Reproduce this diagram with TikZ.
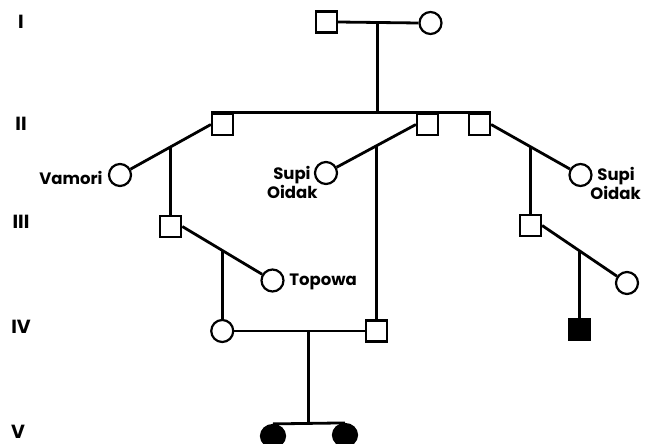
\documentclass[tikz,border=0pt]{standalone}
\usepackage{fontspec}
\setmainfont{Poppins}
\usetikzlibrary{shapes.geometric}
\begin{document}
\begin{tikzpicture}[x=1pt,y=-1pt,
  line width=2.8pt,
  male/.style={draw, rectangle, fill=white, minimum width=21pt, minimum height=21pt, inner sep=0pt, line width=2.2pt},
  female/.style={draw, ellipse, fill=white, minimum width=22pt, minimum height=22pt, inner sep=0pt, line width=2.2pt},
  malefill/.style={male, fill=black},
  femalefill/.style={female, fill=black, minimum width=24pt},
  gen/.style={font=\bfseries\fontsize{19}{19}\selectfont, inner sep=0pt},
  lbl/.style={font=\bfseries\fontsize{16.5}{18}\selectfont, inner sep=0pt},
]
\useasboundingbox (0,0) rectangle (649,444);
\clip (0,0) rectangle (649,444);

% generation numerals
\node[gen] (gI)   at (21,22)  {I};
\node[gen] (gII)  at (21,124) {II};
\node[gen] (gIII) at (21,222) {III};
\node[gen] (gIV)  at (21,327) {IV};
\node[gen] (gV)   at (18,432) {V};

% generation I
\node[male]   (sI) at (326.5,22) {};
\node[female] (cI) at (430.5,23) {};
\draw (sI.east) -- coordinate[pos=0.49] (mI) (cI.west);

% generation II
\node[male] (s21) at (222.5,124.5) {};
\node[male] (s22) at (427.5,124.5) {};
\node[male] (s23) at (479.5,124.5) {};
\draw (s21.north west) -- (s23.north east);
\draw (mI) -- (mI |- s21.north);

\node[female] (vam)  at (120,175)   {};
\node[female] (sup1) at (326,173)   {};
\node[female] (sup2) at (580.5,175) {};
\draw (s21.west) -- coordinate[pos=0.5] (m21) (vam);
\draw (s22.west) -- coordinate[pos=0.5] (m22) (sup1);
\draw (s23.east) -- coordinate[pos=0.5] (m23) (sup2);

\node[lbl, anchor=base east] (lvam)  at (104,185) {Vamori};
\node[lbl, anchor=base east] (lsup1) at (312,179) {Supi};
\node[lbl, anchor=base east] (loid1) at (319,198) {Oidak};
\node[lbl, anchor=base west] (lsup2) at (596,180) {Supi};
\node[lbl, anchor=base west] (loid2) at (589,199) {Oidak};

% generation III
\node[male]   (s31) at (m21 |- 0,226.5) {};
\node[male]   (s32) at (m23 |- 0,225.5) {};
\node[female] (top) at (272.5,280.5) {};
\node[female] (c33) at (627,283) {};
\draw (m21) -- (s31);
\draw (m23) -- (s32);
\draw (s31.east) -- coordinate[pos=0.5] (m31) (top);
\draw (s32.east) -- coordinate[pos=0.5] (m32) (c33);
\node[lbl, anchor=base west] (ltop) at (288,285) {Topowa};

% generation IV
\node[female]   (c41) at (m31 |- 0,331)   {};
\node[male]     (s42) at (m22 |- 0,331)   {};
\node[malefill] (f43) at (m32 |- 0,329.5) {};
\draw (m31) -- (c41);
\draw (m22) -- (s42);
\draw (m32) -- (f43);
\draw (c41) -- coordinate[pos=0.57] (m41) (s42);

% generation V
\node[femalefill] (v1) at (273,436) {};
\node[femalefill] (v2) at (345,435) {};
\draw (v1.north) -- (v2.north);
\draw (m41) -- (m41 |- v1.north);
\end{tikzpicture}
\end{document}
